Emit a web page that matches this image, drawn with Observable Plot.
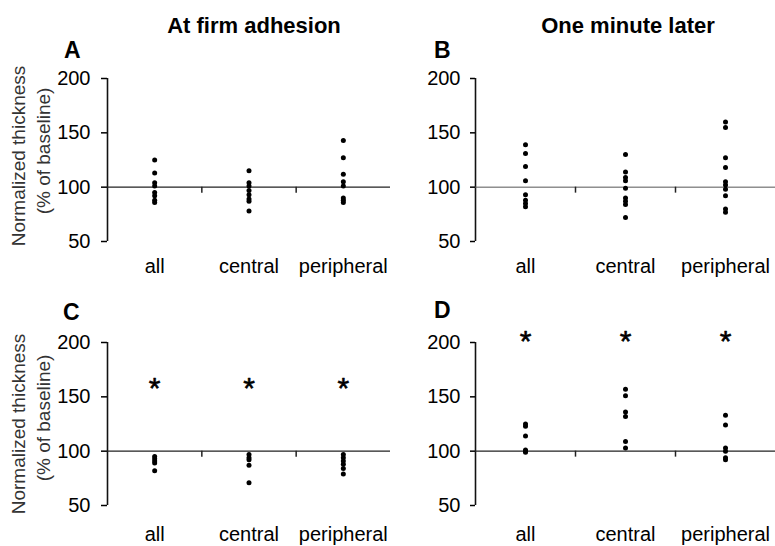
<!DOCTYPE html>
<html><head><meta charset="utf-8">
<script src="https://cdn.jsdelivr.net/npm/d3@7"></script>
<script src="https://cdn.jsdelivr.net/npm/@observablehq/plot@0.6"></script>
<style>
body{margin:0;background:#fff;}
#root{position:relative;width:775px;height:546px;overflow:hidden;font-family:"Liberation Sans",Arial,sans-serif;background:#fff;}
.panel{position:absolute;}
#overlay{position:absolute;left:0;top:0;pointer-events:none;}
</style></head><body><div id="root"></div>
<script>
// ---- data ----
const categories = ["all", "central", "peripheral"];
const yTicks = [50, 100, 150, 200];
const columnTitles = ["At firm adhesion", "One minute later"];
const panelLetters = ["A", "B", "C", "D"];
const yLabelLines = ["Normalized thickness", "(% of baseline)"];
const baselineValue = 100;

// Panel A: at firm adhesion
const aAll = [125, 113, 104, 101, 95, 92, 88, 86];
const aCentral = [115, 104, 101, 97, 93, 89, 87, 78];
const aPeripheral = [143, 127, 112, 105, 101, 90, 88, 86];
// Panel B: one minute later
const bAll = [139, 131, 119, 106, 93, 88, 85, 82];
const bCentral = [130, 114, 109, 106, 99, 90, 87, 84, 72];
const bPeripheral = [160, 155, 127, 118, 105, 102, 98, 92, 80, 77];
// Panel C
const cAll = [95, 93, 91, 89, 82];
const cCentral = [97, 94, 92, 87, 71];
const cPeripheral = [97, 94, 91, 88, 84, 79];
// Panel D
const dAll = [125, 123, 114, 101, 100, 99];
const dCentral = [157, 151, 136, 132, 109, 103];
const dPeripheral = [133, 124, 103, 100, 94, 92];
// significance markers (asterisk level per panel, null = none)
const starLevels = [null, null, 158, 201];

// ---- layout ----
const root = document.getElementById("root");
const FONT = '"Liberation Sans", Arial, sans-serif';
const panels = [
  {values: [aAll, aCentral, aPeripheral], star: starLevels[0], left: 0, top: 48, width: 390, marginLeft: 107, tickSize: 6, tickPadding: 11, xPad: 17, line: "#222", lw: 1.4},
  {values: [bAll, bCentral, bPeripheral], star: starLevels[1], left: 390, top: 48, width: 385, marginLeft: 85, tickSize: 5, tickPadding: 10, xPad: 17, line: "#555", lw: 1},
  {values: [cAll, cCentral, cPeripheral], star: starLevels[2], left: 0, top: 312, width: 390, marginLeft: 107, tickSize: 6, tickPadding: 11, xPad: 21, line: "#222", lw: 1.4},
  {values: [dAll, dCentral, dPeripheral], star: starLevels[3], left: 390, top: 312, width: 385, marginLeft: 85, tickSize: 5, tickPadding: 10, xPad: 21, line: "#222", lw: 1.4}
];

panels.forEach(p => {
  const points = categories.flatMap((c, i) => p.values[i].map(v => ({i, v})));
  const stars = p.star == null ? [] : categories.map((c, i) => ({i, y: p.star}));
  const chart = Plot.plot({
    width: p.width, height: 233,
    marginLeft: p.marginLeft, marginRight: 0, marginTop: 30, marginBottom: 40,
    x: {domain: [-0.5, 2.5]},
    y: {domain: [50, 200]},
    style: {background: "transparent", overflow: "visible", fontFamily: FONT, fontSize: "20px", color: "#000"},
    marks: [
      Plot.axisY({ticks: yTicks, tickSize: p.tickSize, tickPadding: p.tickPadding, label: null, fontSize: 20, strokeWidth: 1.5}),
      Plot.axisX({ticks: [0, 1, 2], tickFormat: i => categories[i], tickSize: 0, tickPadding: p.xPad, label: null, fontSize: 20}),
      Plot.ruleX([-0.5], {y1: 50, y2: 200, stroke: "#111", strokeWidth: 1.6}),
      Plot.ruleY([baselineValue], {stroke: p.line, strokeWidth: p.lw}),
      Plot.ruleX([0.5, 1.5], {y1: baselineValue, y2: baselineValue - 5.5, stroke: "#222", strokeWidth: 1.5}),
      Plot.dot(points, {x: "i", y: "v", r: 2.5, fill: "#000", stroke: null}),
      Plot.text(stars, {x: "i", y: "y", text: () => "*", fontSize: 30, fill: "#000", stroke: "#000", strokeWidth: 0.6})
    ]
  });
  chart.classList.add("panel");
  chart.style.left = p.left + "px";
  chart.style.top = p.top + "px";
  root.appendChild(chart);
});

// ---- titles, panel letters, y labels ----
const ov = d3.select(root).append("svg").attr("id", "overlay").attr("width", 775).attr("height", 546)
  .style("font-family", FONT);
const titlePos = [[254, 33], [628, 33]];
columnTitles.forEach((t, k) => ov.append("text").attr("x", titlePos[k][0]).attr("y", titlePos[k][1])
  .attr("text-anchor", "middle").attr("font-weight", "bold").attr("font-size", 22).text(t));
const letterPos = [[64, 58], [434, 58], [63, 320], [434, 318]];
panelLetters.forEach((t, k) => ov.append("text").attr("x", letterPos[k][0]).attr("y", letterPos[k][1])
  .attr("font-weight", "bold").attr("font-size", 23).text(t));
const ylabelRows = [[156, 151], [424, 418]];
ylabelRows.forEach(row => {
  yLabelLines.forEach((t, j) => {
    const cx = j === 0 ? 18 : 43;
    ov.append("text").attr("transform", `translate(${cx},${row[j]}) rotate(-90)`)
      .attr("text-anchor", "middle").attr("dy", "0.35em").attr("font-size", 19).attr("fill", "#333").text(t);
  });
});
</script>
</body></html>
